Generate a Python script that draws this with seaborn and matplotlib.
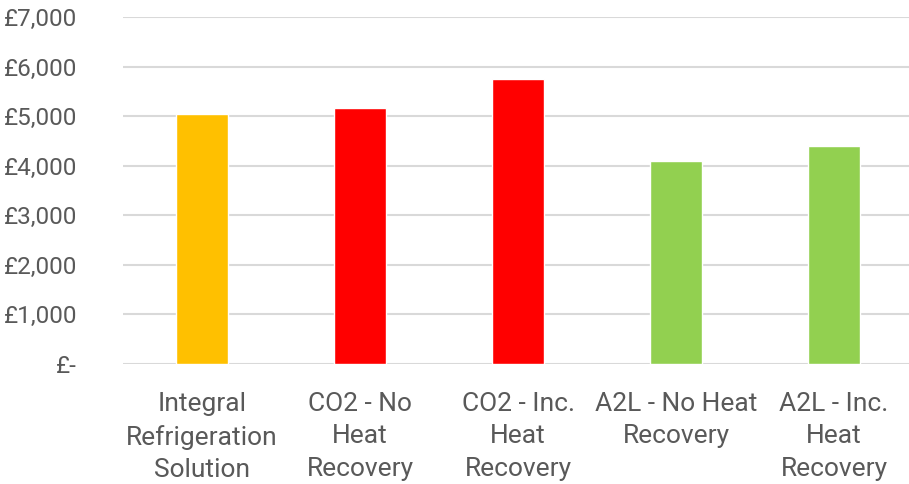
import matplotlib
matplotlib.use("Agg")
import matplotlib.pyplot as plt
import seaborn as sns
import pandas as pd

categories = [
    "Integral\nRefrigeration\nSolution",
    "CO2 - No\nHeat\nRecovery",
    "CO2 - Inc.\nHeat\nRecovery",
    "A2L - No Heat\nRecovery",
    "A2L - Inc.\nHeat\nRecovery",
]
costs = [5040, 5160, 5750, 4100, 4400]
bar_colors = ["#FFC000", "#FF0000", "#FF0000", "#92D050", "#92D050"]
y_ticks = [0, 1000, 2000, 3000, 4000, 5000, 6000, 7000]
y_tick_labels = ["£-", "£1,000", "£2,000", "£3,000", "£4,000", "£5,000", "£6,000", "£7,000"]

sns.set_theme(style="white")
plt.rcParams["font.family"] = ["Roboto", "DejaVu Sans"]

df = pd.DataFrame({"category": categories, "cost": costs})

fig = plt.figure(figsize=(9.09, 4.84), dpi=100)
ax = fig.add_axes([123 / 909, (484 - 364) / 484, 790 / 909, (364 - 17) / 484])

sns.barplot(data=df, x="category", y="cost", hue="category",
            palette=bar_colors, width=0.33, legend=False, ax=ax, saturation=1)

ax.set_ylim(0, 7000)
ax.set_xlim(-0.5, 4.5)
ax.set_yticks(y_ticks)
ax.set_yticklabels(y_tick_labels)
ax.yaxis.grid(True, color="#D9D9D9", linewidth=1.5)
ax.set_axisbelow(True)
for s in ax.spines.values():
    s.set_visible(False)
ax.set_xlabel("")
ax.set_ylabel("")
ax.tick_params(axis="y", length=0, pad=33, labelsize=17.5, labelcolor="#595959")
ax.tick_params(axis="x", length=0, pad=20, labelsize=19, labelcolor="#595959")
for lbl in ax.get_xticklabels():
    lbl.set_linespacing(1.45)

fig.savefig("out.png", dpi=100)
